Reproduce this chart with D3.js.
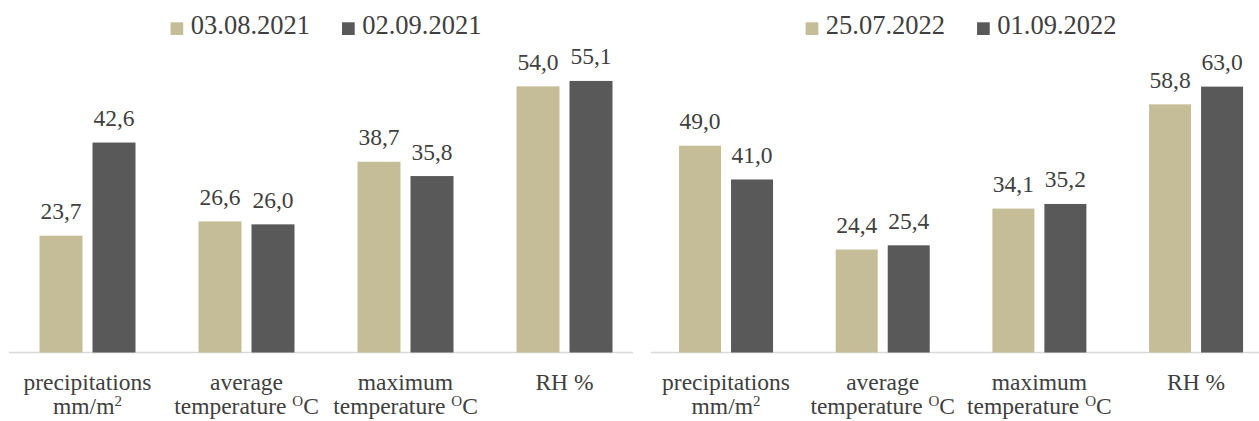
<!DOCTYPE html>
<html><head><meta charset="utf-8">
<script src="https://cdn.jsdelivr.net/npm/d3@7"></script>
</head><body style="margin:0">
<svg id="c" width="1259" height="421"></svg>
<script>
const categories = ["precipitations", "average", "maximum", "RH %"];
const categoryLine2 = ["mm/m", "temperature ", "temperature ", ""];
const categorySup = ["2", "O", "O", ""];
const categoryTail = ["", "C", "C", ""];

const legend2021 = ["03.08.2021", "02.09.2021"];
const values2021a = [23.7, 26.6, 38.7, 54.0];
const values2021b = [42.6, 26.0, 35.8, 55.1];

const legend2022 = ["25.07.2022", "01.09.2022"];
const values2022a = [49.0, 24.4, 34.1, 58.8];
const values2022b = [41.0, 25.4, 35.2, 63.0];

const colors = ["#C4BD97", "#595959"];
const textColor = "#404040";
const serifFont = '"Liberation Serif", "Times New Roman"';

const svg = d3.select("#c");
const baseY = 352.5;

const panels = [
  {legend: legend2021, a: values2021a, b: values2021b, yMax: 70, yTop: 7.5,
   band: [8, 644], group: 96, bw: 43, axis: [9, 633]},
  {legend: legend2022, a: values2022a, b: values2022b, yMax: 80, yTop: 14.9,
   band: [647.7, 1274.4], group: 94, bw: 42, axis: [651, 1259]}
];

function addText(g, x, y, txt, size, anchor) {
  return g.append("text")
    .attr("x", x).attr("y", y)
    .attr("text-anchor", anchor || "middle")
    .style("font-family", serifFont)
    .attr("font-size", size)
    .attr("fill", textColor)
    .text(txt);
}

function estWidth(str, size) {
  let w = 0;
  for (const ch of str) w += (ch === "." || ch === ",") ? 0.25 : 0.5;
  return w * size;
}

panels.forEach(p => {
  const g = svg.append("g");
  const x0 = d3.scaleBand().domain(categories).range(p.band).paddingInner(0).paddingOuter(0);
  const gap = p.group - 2 * p.bw;
  const inner = 2 - p.group / (p.bw + gap);
  const x1 = d3.scaleBand().domain([0, 1]).range([-p.group / 2, p.group / 2]).paddingInner(inner).paddingOuter(0);
  const y = d3.scaleLinear().domain([0, p.yMax]).range([baseY, p.yTop]);

  g.append("line")
    .attr("x1", p.axis[0]).attr("x2", p.axis[1])
    .attr("y1", baseY).attr("y2", baseY)
    .attr("stroke", "#D9D9D9").attr("stroke-width", 1.3);

  categories.forEach((c, i) => {
    const cx = x0(c) + x0.bandwidth() / 2;
    [p.a[i], p.b[i]].forEach((v, s) => {
      const bx = cx + x1(s);
      g.append("rect")
        .attr("x", bx).attr("y", y(v))
        .attr("width", x1.bandwidth()).attr("height", baseY - y(v))
        .attr("fill", colors[s]);
      addText(g, bx + x1.bandwidth() / 2, y(v) - 16.5, d3.format(".1f")(v).replace(".", ","), 23.5);
    });
    addText(g, cx, 389.5, c, 23.5);
    if (categoryLine2[i]) {
      const t = addText(g, cx, 414, "", 23.5);
      t.append("tspan").text(categoryLine2[i]);
      t.append("tspan").attr("font-size", 15).attr("dy", -8).text(categorySup[i]);
      t.append("tspan").attr("dy", 8).text(categoryTail[i]);
    }
  });

  const center = (p.band[0] + p.band[1]) / 2;
  const sq = 12.7, tg = 7.5, ig = 32, lsize = 26.5;
  const widths = p.legend.map(n => estWidth(n, lsize));
  const total = d3.sum(widths) + p.legend.length * (sq + tg) + ig * (p.legend.length - 1);
  let xx = center - total / 2;
  p.legend.forEach((name, s) => {
    g.append("rect").attr("x", xx).attr("y", 22.3).attr("width", sq).attr("height", sq).attr("fill", colors[s]);
    addText(g, xx + sq + tg, 34.3, name, lsize, "start");
    xx += sq + tg + widths[s] + ig;
  });
});
</script>
</body></html>
